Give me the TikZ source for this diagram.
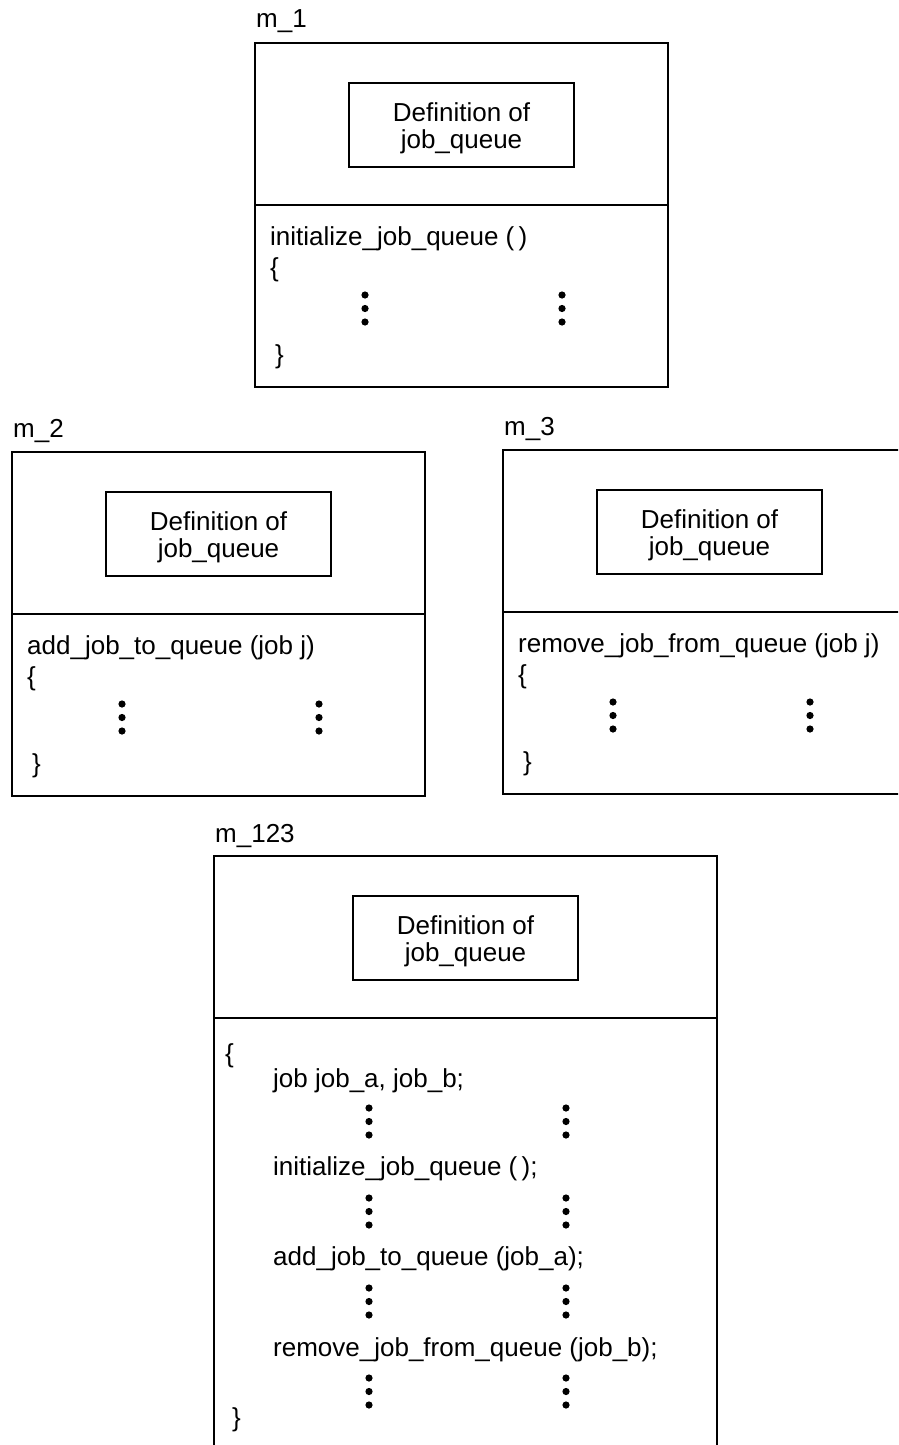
\documentclass[tikz,border=0pt]{standalone}
\usepackage{fontspec}
\setmainfont{Liberation Sans}
\tikzset{
  boxline/.style={line width=1.8pt, line join=miter},
  defbox/.style={draw, line width=1.6pt, minimum width=225pt, minimum height=84pt, inner sep=0pt},
  deftext/.style={align=center, inner sep=0pt, font=\fontsize{26}{27}\selectfont},
  code/.style={anchor=base west, inner sep=0pt, font=\fontsize{26}{30}\selectfont},
  lbl/.style={anchor=base west, inner sep=0pt, font=\fontsize{26}{30}\selectfont},
  dot/.style={fill=black}
}
\newcommand\vdotsat[2]{%
  \fill[dot] (#1,#2) circle (3.6pt);
  \fill[dot] ({#1},{#2+13.5}) circle (3.6pt);
  \fill[dot] ({#1},{#2+27}) circle (3.6pt);}
\newcommand\modulebox[5]{% shift, label, code, prefix, ignored
  \begin{scope}[shift={#1}]
    \draw[boxline] (0,0) rectangle (413,344);
    \draw[boxline] (0,162) -- (413,162);
    \node[defbox] (#4def) at (206.5,82) {};
    \node[deftext] (#4deftext) at ([yshift=-3pt]#4def.center) {Definition of\\job\_queue};
    \node[lbl] (#4lbl) at (1,-15) {#2};
    \node[code] (#4code) at (15,202) {#3};
    \node[code] (#4open) at (15,233) {\{};
    \vdotsat{110}{252}
    \vdotsat{307}{252}
    \node[code] (#4close) at (20,320) {\}};
  \end{scope}}
\begin{document}
\begin{tikzpicture}[x=1pt,y=-1pt]
\useasboundingbox (0,0) rectangle (898,1445);
\clip (0,0) rectangle (898,1445);
\fill[white] (0,0) rectangle (898,1445);

\modulebox{(255,43)}{m\_1}{initialize\_job\_queue (\,)}{a}{}
\modulebox{(12,452)}{m\_2}{add\_job\_to\_queue (job j)}{b}{}
\modulebox{(503,450)}{m\_3}{remove\_job\_from\_queue (job j)}{c}{}

\begin{scope}[shift={(214,856)}]
  \draw[boxline] (0,600) -- (0,0) -- (503,0) -- (503,600);
  \draw[boxline] (0,162) -- (503,162);
  \node[defbox] (ddef) at (251.5,82) {};
  \node[deftext] (ddeftext) at ([yshift=-3pt]ddef.center) {Definition of\\job\_queue};
  \node[lbl] (dlbl) at (1,-14) {m\_123};
  \node[code] (dopen) at (11,206) {\{};
  \node[code] (dl1) at (59,231) {job job\_a, job\_b;};
  \vdotsat{155}{252}\vdotsat{352}{252}
  \node[code] (dl2) at (59,319) {initialize\_job\_queue (\,);};
  \vdotsat{155}{342}\vdotsat{352}{342}
  \node[code] (dl3) at (59,409) {add\_job\_to\_queue (job\_a);};
  \vdotsat{155}{432}\vdotsat{352}{432}
  \node[code] (dl4) at (59,500) {remove\_job\_from\_queue (job\_b);};
  \vdotsat{155}{522}\vdotsat{352}{522}
  \node[code] (dclose) at (18,570) {\}};
\end{scope}
\end{tikzpicture}
\end{document}
